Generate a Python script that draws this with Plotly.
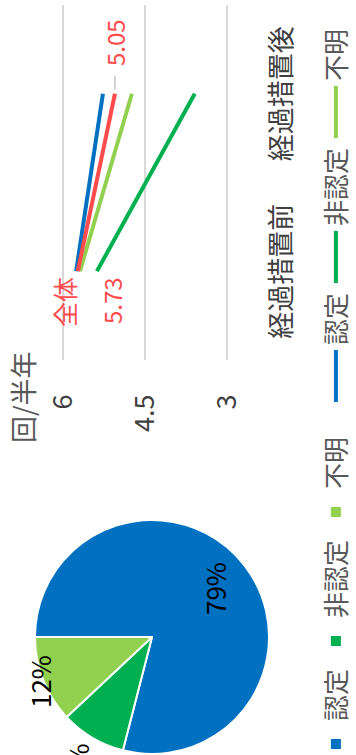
import math
import plotly.graph_objects as go

# Share of patients by status (pie)
pie_labels = ["認定", "非認定", "不明"]
pie_values = [79, 9, 12]
pie_colors = ["#0070C0", "#00B050", "#92D050"]

# Visits per half-year, before / after the transitional measure
periods = ["経過措置前", "経過措置後"]
series_names = ["認定", "非認定", "不明", "全体"]
series_values = {
    "認定": [5.76, 5.27],
    "非認定": [5.38, 3.59],
    "不明": [5.69, 4.74],
    "全体": [5.73, 5.05],
}
series_colors = {
    "認定": "#0070C0",
    "非認定": "#00B050",
    "不明": "#92D050",
    "全体": "#FF4B4B",
}
y_ticks = [3, 4.5, 6]
y_ticktext = ["3", "4.5", "6"]

W, H = 755, 356
FONT = "Noto Sans CJK JP"
RED = "#FF4B4B"
GRAY_TEXT = "#595959"

# pie geometry (pixels in the landscape layout)
PIE_CX, PIE_CY, PIE_R = 118, 152, 117
# radial position of each percentage label, as a fraction of the radius
label_radius = [0.675, 1.25, 1.03]

fig = go.Figure()

fig.add_trace(go.Pie(
    labels=pie_labels,
    values=pie_values,
    sort=False,
    direction="clockwise",
    rotation=0,
    marker=dict(colors=pie_colors, line=dict(color="white", width=2)),
    textinfo="none",
    domain=dict(x=[(PIE_CX - PIE_R) / W, (PIE_CX + PIE_R) / W],
                y=[1 - (PIE_CY + PIE_R) / H, 1 - (PIE_CY - PIE_R) / H]),
    legend="legend2",
    hoverinfo="label+percent",
))

for name in series_names:
    fig.add_trace(go.Scatter(
        x=periods,
        y=series_values[name],
        name=name,
        mode="lines",
        line=dict(color=series_colors[name], width=4),
        showlegend=(name != "全体"),
        legend="legend",
    ))

annotations = []

# percentage labels placed along each slice's mid-angle
total_count = sum(pie_values)
start = 0.0
for value, k in zip(pie_values, label_radius):
    frac = value / total_count
    mid = 2 * math.pi * (start + frac / 2)
    start += frac
    px = PIE_CX + k * PIE_R * math.sin(mid)
    py = PIE_CY - k * PIE_R * math.cos(mid)
    annotations.append(dict(
        x=px / W, y=1 - py / H, xref="paper", yref="paper",
        text=f"{round(frac * 100)}%", showarrow=False,
        xanchor="center", yanchor="middle",
        font=dict(size=26, color="#000000", family=FONT),
    ))

total = series_values["全体"]
annotations += [
    dict(x=periods[0], y=total[0], xref="x", yref="y", text="全体",
         showarrow=False, xanchor="right", yanchor="middle",
         xshift=-4, yshift=14, font=dict(size=25, color=RED, family=FONT)),
    dict(x=periods[0], y=total[0], xref="x", yref="y", text=f"{total[0]:.2f}",
         showarrow=False, xanchor="right", yanchor="middle",
         xshift=-4, yshift=-34, font=dict(size=24, color=RED, family=FONT)),
    dict(x=periods[1], y=total[1], xref="x", yref="y", text=f"{total[1]:.2f}",
         showarrow=True, arrowhead=0, arrowwidth=1, arrowcolor="#A6A6A6",
         ax=26, ay=0, xanchor="left", yanchor="middle",
         standoff=4, startstandoff=8,
         font=dict(size=24, color=RED, family=FONT)),
    dict(x=358 / W, y=1 - 22 / H, xref="paper", yref="paper", text="回/半年",
         showarrow=False, xanchor="center", yanchor="middle",
         font=dict(size=27, color=GRAY_TEXT, family=FONT)),
]

fig.update_layout(
    width=W,
    height=H,
    margin=dict(l=0, r=0, t=0, b=0, autoexpand=False),
    paper_bgcolor="white",
    plot_bgcolor="white",
    font=dict(family=FONT, color="#404040"),
    annotations=annotations,
    xaxis=dict(
        domain=[395 / W, 750 / W],
        type="category",
        range=[-0.5, 1.5],
        showgrid=False,
        showline=False,
        zeroline=False,
        ticks="outside",
        ticklen=28,
        tickcolor="rgba(0,0,0,0)",
        tickfont=dict(size=27, color="#404040", family=FONT),
        fixedrange=True,
    ),
    yaxis=dict(
        domain=[1 - 229.7 / H, 1 - 60.3 / H],
        range=[2.95, 6.05],
        tickvals=y_ticks,
        ticktext=y_ticktext,
        showgrid=True,
        gridcolor="#D9D9D9",
        gridwidth=1.5,
        showline=False,
        zeroline=False,
        ticks="outside",
        ticklen=28,
        tickcolor="rgba(0,0,0,0)",
        tickfont=dict(size=27, color="#404040", family=FONT),
        fixedrange=True,
    ),
    legend=dict(
        orientation="h",
        x=348 / W, xanchor="left",
        y=1 - 336 / H, yanchor="middle",
        itemwidth=52,
        font=dict(size=26, color=GRAY_TEXT, family=FONT),
        bgcolor="rgba(0,0,0,0)",
    ),
    legend2=dict(
        orientation="h",
        x=-12 / W, xanchor="left",
        y=1 - 336 / H, yanchor="middle",
        itemwidth=36,
        font=dict(size=26, color=GRAY_TEXT, family=FONT),
        bgcolor="rgba(0,0,0,0)",
    ),
)

# The page shows the chart turned a quarter turn counter-clockwise.
rotate_js = """
var gd = document.getElementById('{plot_id}');
document.documentElement.style.overflow = 'hidden';
document.body.style.margin = '0';
document.body.style.overflow = 'hidden';
gd.style.position = 'absolute';
gd.style.left = '0px';
gd.style.top = '%dpx';
gd.style.transformOrigin = '0 0';
gd.style.transform = 'rotate(-90deg)';
""" % W

fig.write_html("out.html", post_script=rotate_js, config={"displayModeBar": False})
